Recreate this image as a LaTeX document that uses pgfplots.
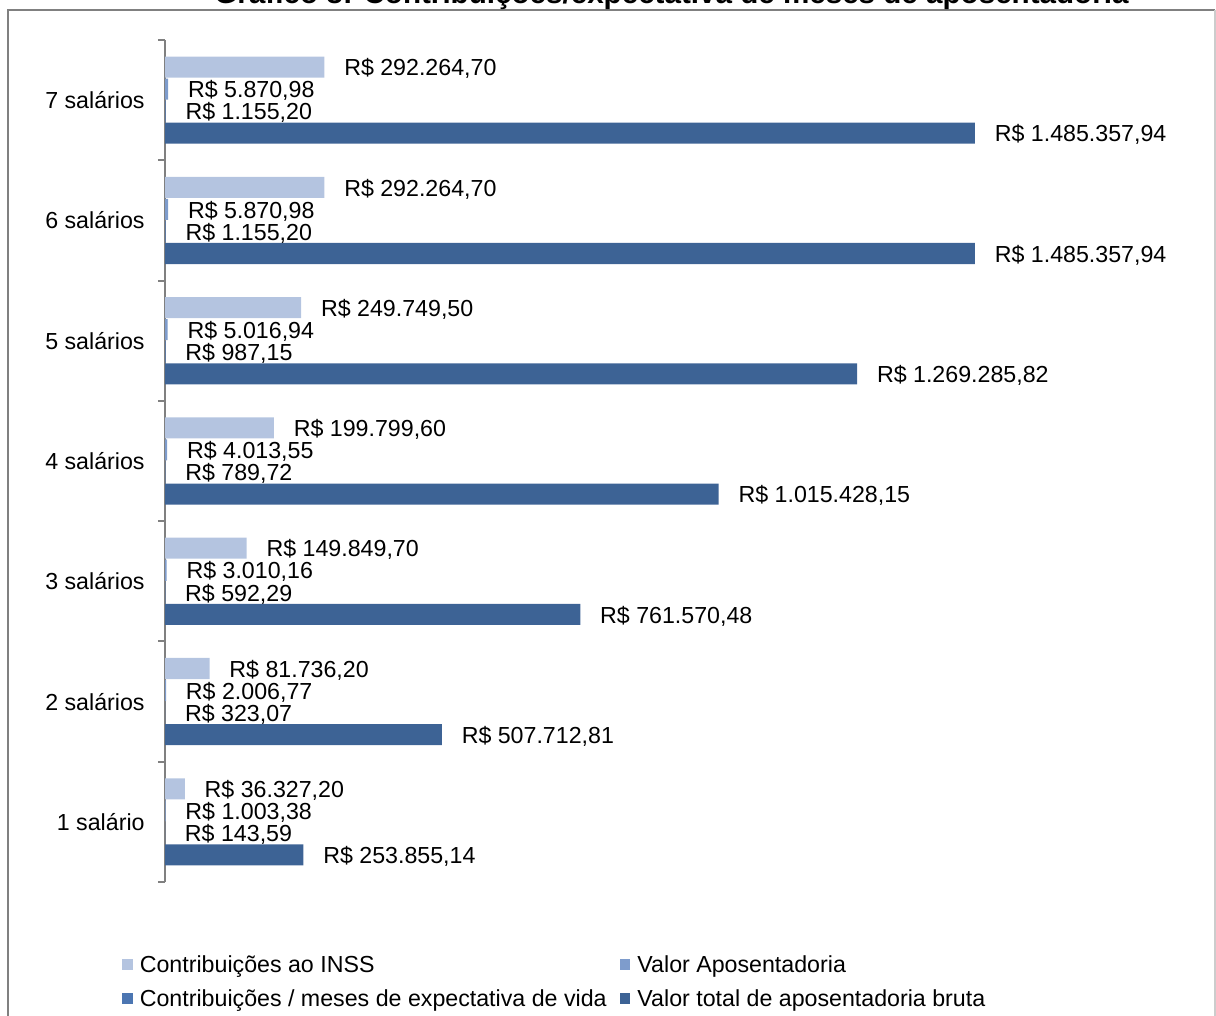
\documentclass[border=0pt]{standalone}
\usepackage{pgfplots}
\pgfplotsset{compat=1.18}
\usepackage{pgfplotstable}
\usepackage{fontspec}
\setmainfont{Liberation Sans}

\definecolor{cInss}{RGB}{180,196,224}
\definecolor{cApos}{RGB}{126,156,204}
\definecolor{cMeses}{RGB}{76,118,178}
\definecolor{cTotal}{RGB}{61,99,149}
\definecolor{frame}{RGB}{128,128,128}

% faixa salarial, contribuições ao INSS, valor da aposentadoria,
% contribuições / meses de expectativa de vida, valor total bruto
\pgfplotstableread{
cat inss      apos    meses   total
1   36327.20  1003.38 143.59  253855.14
2   81736.20  2006.77 323.07  507712.81
3   149849.70 3010.16 592.29  761570.48
4   199799.60 4013.55 789.72  1015428.15
5   249749.50 5016.94 987.15  1269285.82
6   292264.70 5870.98 1155.20 1485357.94
7   292264.70 5870.98 1155.20 1485357.94
}\dados

% small square as legend marker
\pgfplotsset{sqlegend/.style={legend image code/.code={\fill[##1] (0pt,-1.8pt) rectangle (5.4pt,3.6pt);}}}

\begin{document}
\begin{tikzpicture}
% moldura do gráfico
\draw[frame, line width=1pt] (4pt,-530pt) -- (4pt,-5pt) -- (607.5pt,-5pt);
\draw[black!20, line width=0.8pt] (607.5pt,-5pt) -- (607.5pt,-530pt);
\node[font=\bfseries\fontsize{14.8}{16}\selectfont, anchor=base] at (335.75pt,-1.9pt)
  {Gráfico 8: Contribuições/expectativa de meses de aposentadoria};
\begin{axis}[
  at={(82.5pt,-441pt)}, anchor=south west,
  scale only axis, width=545.3pt, height=421pt,
  xmin=0, xmax=2000000, ymin=0.5, ymax=7.5,
  xbar, bar width=0.175,
  axis x line=none, axis y line*=left,
  y axis line style={frame, line width=1pt},
  ytick={1,...,7},
  yticklabels={1 salário,2 salários,3 salários,4 salários,5 salários,6 salários,7 salários},
  minor ytick={0.5,1.5,...,7.5},
  major tick length=0pt, minor tick length=3.5pt, tick align=outside,
  minor tick style={frame, line width=1pt},
  yticklabel style={font=\fontsize{11.6}{13}\selectfont, inner sep=0pt, xshift=-10pt},
  clip=false,
  point meta=x,
  nodes near coords={R\$ \pgfmathprintnumber[fixed, fixed zerofill, precision=2, 1000 sep={.}, dec sep={,}, assume math mode=true]{\pgfplotspointmeta}},
  every node near coord/.append style={anchor=west, inner sep=0pt, xshift=9.75pt,
    yshift=-0.8pt, font=\fontsize{11.6}{13}\selectfont, black},
  legend columns=2,
  legend cell align=left,
  legend style={at={(-0.0394,-0.0873)}, anchor=north west, draw=none, fill=none,
    inner sep=0pt, outer sep=0pt, row sep=6.5pt, column sep=3.5pt,
    font=\fontsize{11.6}{13}\selectfont,
    nodes={inner sep=0pt, text height=8.3pt, text depth=2.4pt},
    /tikz/every even column/.append style={column sep=6.5pt}},
]
\addplot[fill=cInss, draw=none, bar shift=0.275, sqlegend]
  table[x=inss, y=cat]{\dados};
\addplot[fill=cApos, draw=none, bar shift=0.0917, sqlegend]
  table[x=apos, y=cat]{\dados};
\addplot[fill=cMeses, draw=none, bar shift=-0.0917, sqlegend]
  table[x=meses, y=cat]{\dados};
\addplot[fill=cTotal, draw=none, bar shift=-0.275, sqlegend]
  table[x=total, y=cat]{\dados};
\legend{Contribuições ao INSS, Valor Aposentadoria,
  Contribuições / meses de expectativa de vida, Valor total de aposentadoria bruta}
\end{axis}
\pgfresetboundingbox
\useasboundingbox (0pt,0pt) rectangle (608pt,-508pt);
\end{tikzpicture}
\end{document}
